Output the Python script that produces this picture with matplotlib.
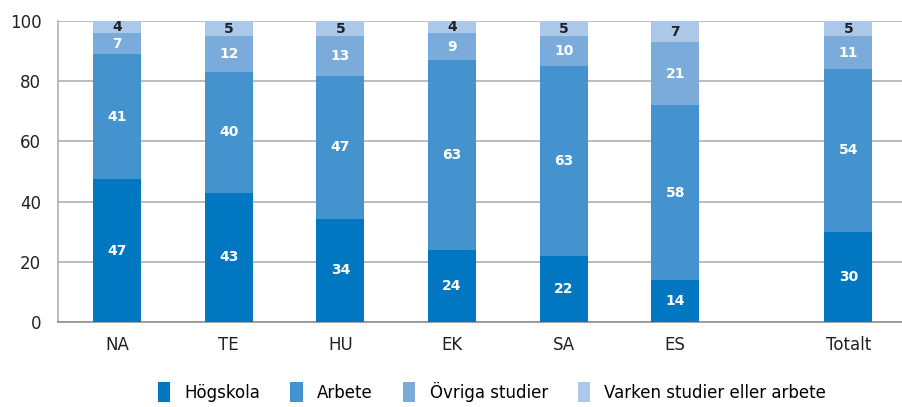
import matplotlib.pyplot as plt
from matplotlib.patches import Patch
import numpy as np

categories = ['NA', 'TE', 'HU', 'EK', 'SA', 'ES', 'Totalt']
hogskola = [47, 43, 34, 24, 22, 14, 30]
arbete = [41, 40, 47, 63, 63, 58, 54]
ovriga = [7, 12, 13, 9, 10, 21, 11]
varken = [4, 5, 5, 4, 5, 7, 5]

series = [
    ('Högskola', hogskola, '#0077c0', 'white'),
    ('Arbete', arbete, '#4593ce', 'white'),
    ('Övriga studier', ovriga, '#7babdb', 'white'),
    ('Varken studier eller arbete', varken, '#abc8e8', '#222222'),
]

# Totalt sits a bit apart from the programmes
x = np.array([0, 1, 2, 3, 4, 5, 6.55])

# rounded labels don't always sum to 100, bars are drawn as shares of 100
totals = np.sum([s[1] for s in series], axis=0).astype(float)

fig = plt.figure(figsize=(9.03, 4.07), dpi=100)
ax = fig.add_axes([0.0642, 0.2088, 0.9358, 0.7396])

bottom = np.zeros(len(categories))
for name, vals, color, txt_color in series:
    heights = np.array(vals, dtype=float) / totals * 100
    ax.bar(x, heights, width=0.43, bottom=bottom, color=color, zorder=3, label=name)
    for xi, b, h, v in zip(x, bottom, heights, vals):
        ax.text(xi, b + h / 2, f'{v}', ha='center', va='center',
                color=txt_color, fontsize=10, fontweight='bold', zorder=4)
    bottom += heights

ax.set_xlim(-0.53, 7.04)
ax.set_ylim(0, 100)
ax.set_yticks(range(0, 101, 20))
ax.set_xticks(x)
ax.set_xticklabels(categories)
ax.tick_params(axis='both', length=0, labelsize=12, colors='#222222')
ax.tick_params(axis='y', pad=12)
ax.tick_params(axis='x', pad=10)
ax.grid(axis='y', color='#b0b0b0', linewidth=1.2, zorder=0)
for s in ['top', 'right']:
    ax.spines[s].set_visible(False)
ax.spines['left'].set_color('#b0b0b0')
ax.spines['left'].set_linewidth(1.2)
ax.spines['bottom'].set_color('#909090')
ax.spines['bottom'].set_linewidth(1.2)

handles = [Patch(facecolor=c, label=n) for n, _, c, _ in series]
fig.legend(handles=handles, loc='lower center', bbox_to_anchor=(0.545, -0.025), ncol=4,
           frameon=False, fontsize=12, handlelength=0.75, handleheight=1.5,
           columnspacing=1.8, handletextpad=0.85)

fig.savefig('out.png', dpi=100)
